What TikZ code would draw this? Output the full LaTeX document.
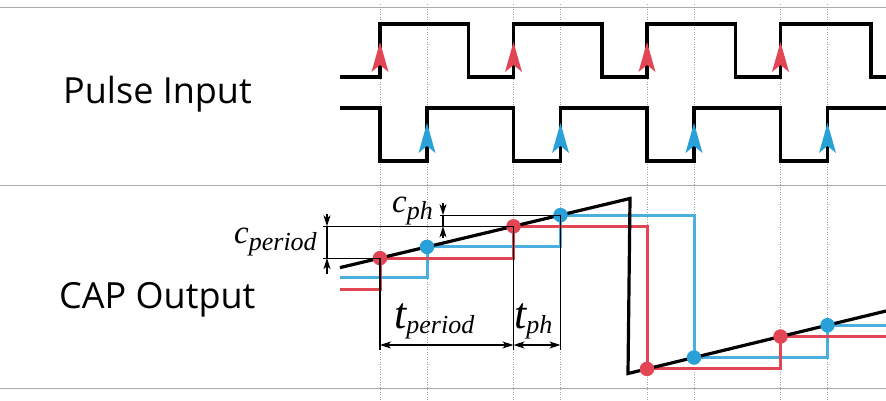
\documentclass[tikz,border=0pt]{standalone}
\usepackage{fontspec}
\setmainfont{Open Sans}
\newfontfamily\tfont{Liberation Serif}
\usetikzlibrary{arrows.meta}
\definecolor{redc}{RGB}{226,70,84}
\definecolor{bluec}{RGB}{42,160,216}
\definecolor{sepc}{RGB}{170,170,176}
\tikzset{
  sep/.style={draw=sepc, line width=1.5pt},
  guide/.style={draw=gray!75, line width=0.8pt, dash pattern=on 1.2pt off 1.3pt},
  wave/.style={draw=black, line width=3.2pt, line join=miter},
  stepred/.style={draw=redc, line width=3pt},
  stepblue/.style={draw=bluec!85!white, line width=3pt},
  dim/.style={draw=black, line width=1.2pt},
  dimarr/.style={dim, -{Stealth[length=11pt,width=7pt,inset=3pt]}},
  dimboth/.style={dim, {Stealth[length=11pt,width=7pt,inset=3pt]}-{Stealth[length=11pt,width=7pt,inset=3pt]}},
  uparrow/.pic={\fill (0,0) -- (8.5,30) -- (0,23) -- (-8.5,30) -- cycle;},
  title/.style={font=\fontsize{36}{36}\selectfont, anchor=base west, inner sep=0pt},
  mlabel/.style={font=\tfont\itshape\fontsize{33}{33}\selectfont, anchor=base west, inner sep=0pt},
  tlabel/.style={font=\tfont\itshape\fontsize{44}{44}\selectfont, anchor=base west, inner sep=0pt},
  dot/.style={circle, minimum size=14.5pt, inner sep=0pt}
}
\newcommand{\subtxt}[2]{\raisebox{-#1pt}{\fontsize{26}{26}\selectfont #2}}
\begin{document}
\begin{tikzpicture}[x=1pt,y=-1pt]
\useasboundingbox (0,0) rectangle (886,400);
% separators
\draw[sep] (0,7.5) -- (886,7.5);
\draw[sep] (0,185.5) -- (886,185.5);
\draw[sep] (0,388.5) -- (886,388.5);
% guides
\foreach \x in {380,427,513.5,560.5,647,694,780.5,827.5}
  \draw[guide] (\x,4) -- (\x,400);
% pulse waves
\draw[wave] (340,77) -- (380,77) -- (380,24) -- (468.5,24) -- (468.5,77) -- (513.5,77) -- (513.5,24) -- (602,24) -- (602,77) -- (647,77) -- (647,24) -- (735.5,24) -- (735.5,77) -- (780.5,77) -- (780.5,24) -- (871,24) -- (871,77) -- (886,77);
\draw[wave] (340,108) -- (380,108) -- (380,161) -- (427,161) -- (427,108) -- (513.5,108) -- (513.5,161) -- (560.5,161) -- (560.5,108) -- (647,108) -- (647,161) -- (694,161) -- (694,108) -- (780.5,108) -- (780.5,161) -- (827.5,161) -- (827.5,108) -- (886,108);
\foreach \x in {380,513.5,647,780.5} \pic[redc] at (\x,42) {uparrow};
\foreach \x in {427,560.5,694,827.5} \pic[bluec] at (\x,123) {uparrow};
% capture points
\coordinate (r1) at (380,258.1);
\coordinate (r2) at (513.5,226.3);
\coordinate (r3) at (647,368.9);
\coordinate (r4) at (780.5,336.5);
\coordinate (b1) at (427,246.9);
\coordinate (b2) at (560.5,215.1);
\coordinate (b3) at (694,357.5);
\coordinate (b4) at (827.5,325.2);
% step outputs
\draw[stepblue] (340,277) -| (b1) -| (b2) -| (b3) -| (b4) -- (886,325.2);
\draw[stepred] (340,289) -| (r1) -| (r2) -| (r3) -| (r4) -- (886,336.5);
% sawtooth
\draw[wave] (340,267.6) -- (630,198.5) -- (628,373.5) -- (886,311);
% dots
\foreach \n in {r1,r2,r3,r4} \node[dot, fill=redc] (\n dot) at (\n) {};
\foreach \n in {b1,b2,b3,b4} \node[dot, fill=bluec] (\n dot) at (\n) {};
% c dimensions
\draw[dim] (323,226.3) -- (r2);
\draw[dim] (323,258.1) -- (r1);
\draw[dim] (440,215.1) -- (b2);
\draw[dim] (327,226.3) -- (327,258.1);
\draw[dimarr] (327,214) -- (327,226.3);
\draw[dimarr] (327,274) -- (327,258.1);
\draw[dim] (443,215.1) -- (443,226.3);
\draw[dimarr] (443,203) -- (443,215.1);
\draw[dimarr] (443,238) -- (443,226.3);
% t dimensions
\draw[dim] (r1) -- (380,350);
\draw[dim] (r2) -- (513.5,350);
\draw[dim] (b2) -- (560.5,350);
\draw[dimboth] (380,345) -- (513.5,345);
\draw[dimboth] (513.5,345) -- (560.5,345);
% labels
\node[title] (pulse) at (63,103) {Pulse Input};
\node[title] (cap) at (59,308) {CAP Output};
\node[mlabel] (cper) at (234,243) {c\subtxt{7}{period}};
\node[mlabel] (cph) at (392,212) {c\subtxt{7}{ph}};
\node[tlabel] (tper) at (394,328) {t\subtxt{5}{period}};
\node[tlabel] (tph) at (514,328) {t\subtxt{5}{ph}};
\end{tikzpicture}
\end{document}
